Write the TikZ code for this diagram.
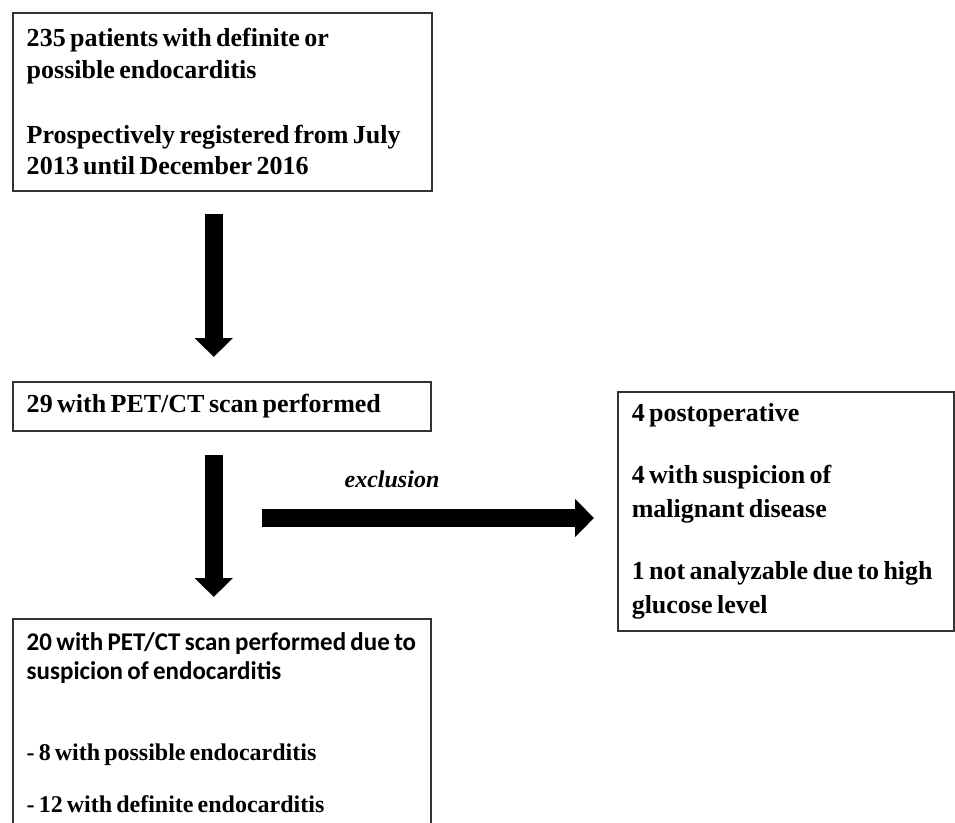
\documentclass[tikz,border=0pt]{standalone}
\usepackage{fontspec}
\setmainfont{Liberation Serif}
\newfontfamily\calfont{Carlito}[FakeStretch=0.98]
\newcommand\tightsp{\spaceskip=0.17em plus 0.05em\relax}
\usepackage{tikz}
\usetikzlibrary{arrows.meta,positioning}

\begin{document}
\begin{tikzpicture}[x=1pt,y=-1pt,
  box/.style={draw=black!80,line width=1.5pt,anchor=north west,align=flush left,inner xsep=14pt,inner ysep=0pt,font=\bfseries\fontsize{26}{31.5}\selectfont\tightsp},
  blockarrow/.style={line width=18pt,-{Triangle[width=37pt,length=19pt]}}]
  \useasboundingbox (0,0) rectangle (955,822);
  \clip (0,0) rectangle (955,822);
  \node[box,text width=391pt,minimum height=178pt] (reg) at (12,12)
    {235 patients with definite or\\ possible endocarditis\\[33.5pt]
     Prospectively registered from July\\ 2013 until December 2016};
  \node[box,text width=390pt,minimum height=49pt] (pet) at (12,381) {29 with PET/CT scan performed};
  \node[box,text width=308pt,minimum height=239pt,font=\bfseries\fontsize{26}{34}\selectfont\tightsp] (exc) at (617,391)
    {4 postoperative\\[28pt] 4 with suspicion of\\ malignant disease\\[28pt]
     \mbox{1 not analyzable due to high}\\ glucose level};
  \node[box,text width=390pt,minimum height=208pt,font=\bfseries\fontsize{24}{30}\selectfont\tightsp] (res) at (12,618)
    {{\calfont\fontsize{25.5}{29}\selectfont\tightsp \mbox{20 with PET/CT scan performed due to}}\\[-1pt]
     {\calfont\fontsize{25.5}{29}\selectfont\tightsp suspicion of endocarditis}\\[51pt]
     - 8 with possible endocarditis\\[22pt]
     - 12 with definite endocarditis};
  % flow arrows
  \draw[blockarrow,shorten <=22pt,shorten >=24pt] ([xshift=-8.5pt]reg.south) -- ([xshift=-8.5pt]reg.south |- pet.north);
  \draw[blockarrow,shorten <=23pt,shorten >=21pt] ([xshift=-8pt]pet.south) -- ([xshift=-8pt]pet.south |- res.north);
  \coordinate (excl) at (262,518);
  \draw[blockarrow,shorten >=23pt] (excl) -- (excl -| exc.west);
  \node[font=\bfseries\itshape\fontsize{24}{24}\selectfont,anchor=base] (exlabel) at (392,487) {exclusion};
\end{tikzpicture}
\end{document}
